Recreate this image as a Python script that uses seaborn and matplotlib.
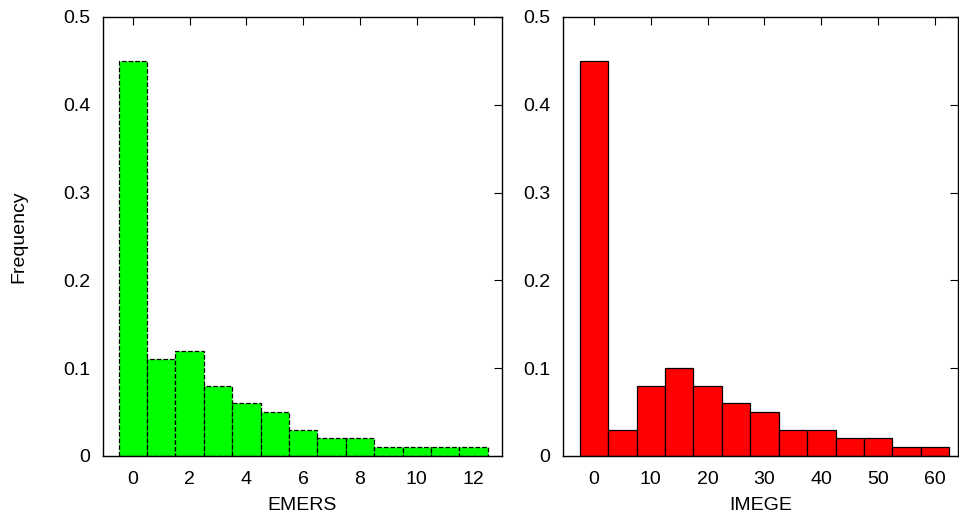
import numpy as np
import pandas as pd
import matplotlib
matplotlib.use("Agg")
import matplotlib.pyplot as plt
import seaborn as sns

sns.set_theme(style="white")
plt.rcParams['font.family'] = ['Liberation Sans', 'DejaVu Sans']
plt.rcParams['axes.labelcolor'] = 'black'

# EMERS histogram (bin centers, width 1)
emers_x = [0, 1, 2, 3, 4, 5, 6, 7, 8, 9, 10, 11, 12]
emers_freq = [0.45, 0.11, 0.12, 0.08, 0.06, 0.05, 0.03, 0.02, 0.02, 0.01, 0.01, 0.01, 0.01]

# IMEGE histogram (bin centers, width 5)
imege_x = [0, 5, 10, 15, 20, 25, 30, 35, 40, 45, 50, 55, 60]
imege_freq = [0.45, 0.03, 0.08, 0.10, 0.08, 0.06, 0.05, 0.03, 0.03, 0.02, 0.02, 0.01, 0.01]

emers = pd.DataFrame({"x": emers_x, "freq": emers_freq})
imege = pd.DataFrame({"x": imege_x, "freq": imege_freq})

fig = plt.figure(figsize=(9.59, 5.19), dpi=100)
ax1 = fig.add_axes([0.1074, 0.1214, 0.416, 0.8459])
ax2 = fig.add_axes([0.587, 0.1214, 0.412, 0.8459])

sns.histplot(data=emers, x="x", weights="freq", bins=list(np.arange(-0.5, 13, 1)), ax=ax1,
             color="#00ff00", alpha=1, edgecolor="black", linewidth=0.9, linestyle="--")
sns.histplot(data=imege, x="x", weights="freq", bins=list(np.arange(-2.5, 65, 5)), ax=ax2,
             color="#ff0000", alpha=1, edgecolor="black", linewidth=0.9)

fs = 14
for ax in (ax1, ax2):
    ax.set_ylim(0, 0.5)
    ax.set_yticks([0, 0.1, 0.2, 0.3, 0.4, 0.5])
    ax.set_yticklabels(["0", "0.1", "0.2", "0.3", "0.4", "0.5"])
    ax.tick_params(direction="in", length=6, width=0.8, top=True, right=True,
                   labelsize=fs, colors="black")
    ax.tick_params(axis="y", pad=9)
    ax.tick_params(axis="x", pad=11)
    ax.set_ylabel("")
    for s in ax.spines.values():
        s.set_color("black")
        s.set_linewidth(1)

ax1.set_xlim(-1.05, 13)
ax1.set_xticks([0, 2, 4, 6, 8, 10, 12])
ax1.set_xlabel("EMERS", fontsize=fs, labelpad=6)
ax1.set_ylabel("Frequency", fontsize=fs, labelpad=26)

ax2.set_xlim(-5.45, 64.05)
ax2.set_xticks([0, 10, 20, 30, 40, 50, 60])
ax2.set_xlabel("IMEGE", fontsize=fs, labelpad=6)

fig.savefig("out.png", dpi=100)
